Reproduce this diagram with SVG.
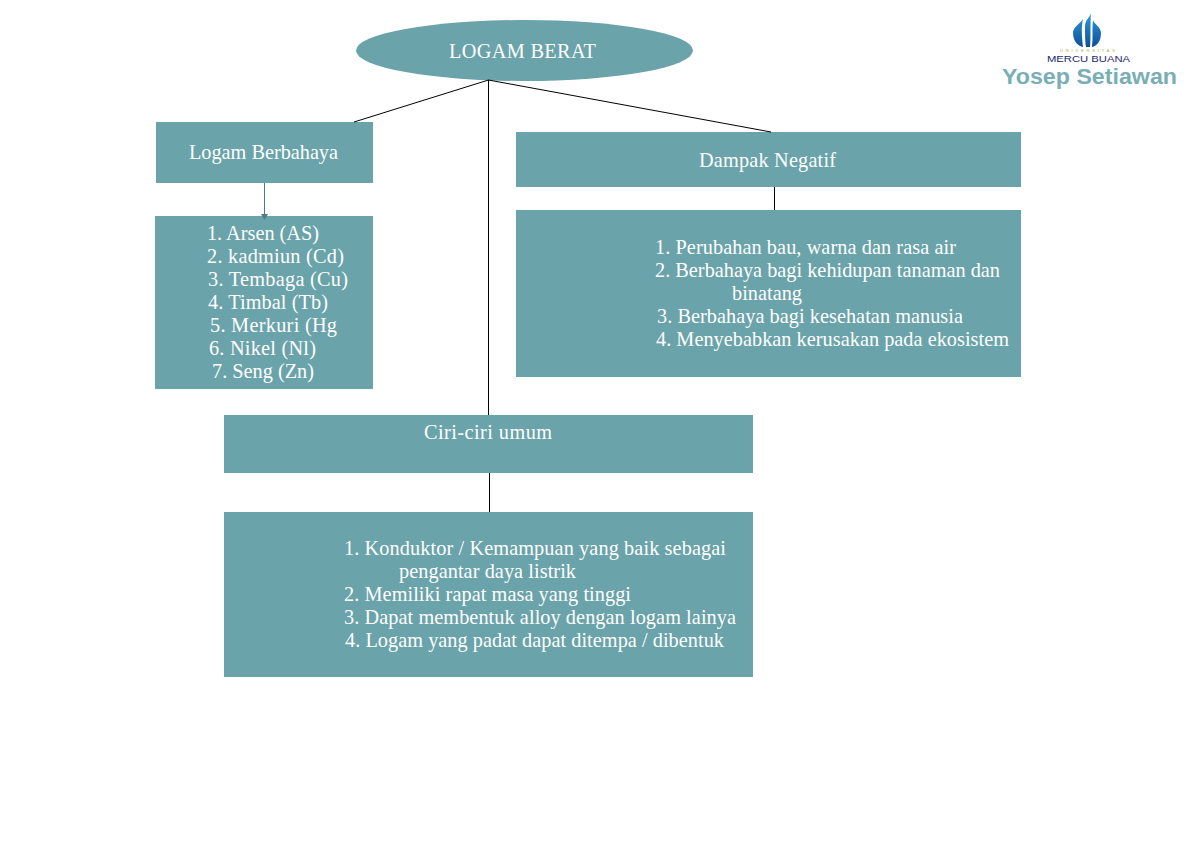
<svg xmlns="http://www.w3.org/2000/svg" width="1189" height="841" viewBox="0 0 1189 841">
<style>
.n{fill:#6aa3aa}
.t{font-family:"Liberation Serif","Times New Roman",serif;font-size:20.300px;fill:#fff}
.c{stroke:#000;stroke-width:1;fill:none}
.logo{font-family:"Liberation Sans",Arial,sans-serif}
</style>
<defs><linearGradient id="b" gradientUnits="userSpaceOnUse" x1="0" y1="13" x2="0" y2="47"><stop offset="0" stop-color="#2f9ad8"/><stop offset="1" stop-color="#0f4f9a"/></linearGradient></defs>
<rect width="1189" height="841" fill="#fff"/>
<g id="logam-berat"><ellipse class="n" cx="524.500" cy="50.500" rx="168.500" ry="30.500"/><text class="t" x="449" y="58" textLength="147">LOGAM BERAT</text></g>
<g id="logam-berbahaya"><rect class="n" x="156" y="122" width="217" height="61"/><text class="t" x="189" y="159" textLength="149">Logam Berbahaya</text></g>
<g id="daftar-logam"><rect class="n" x="155" y="216" width="218" height="173"/>
<text class="t" x="207" y="240" textLength="112">1. Arsen (AS)</text>
<text class="t" x="207" y="263" textLength="137">2. kadmiun (Cd)</text>
<text class="t" x="208" y="286" textLength="140">3. Tembaga (Cu)</text>
<text class="t" x="208" y="309" textLength="120">4. Timbal (Tb)</text>
<text class="t" x="210" y="332" textLength="127">5. Merkuri (Hg</text>
<text class="t" x="209" y="355" textLength="107">6. Nikel (Nl)</text>
<text class="t" x="212" y="378" textLength="102">7. Seng (Zn)</text></g>
<g id="dampak-negatif"><rect class="n" x="516" y="132" width="505" height="55"/><text class="t" x="699" y="167" textLength="137">Dampak Negatif</text></g>
<g id="daftar-dampak"><rect class="n" x="516" y="210" width="505" height="167"/>
<text class="t" x="655" y="254" textLength="301">1. Perubahan bau, warna dan rasa air</text>
<text class="t" x="655" y="277" textLength="345">2. Berbahaya bagi kehidupan tanaman dan</text>
<text class="t" x="732" y="300" textLength="70">binatang</text>
<text class="t" x="657" y="323" textLength="306">3. Berbahaya bagi kesehatan manusia</text>
<text class="t" x="656" y="346" textLength="353">4. Menyebabkan kerusakan pada ekosistem</text></g>
<g id="ciri-ciri"><rect class="n" x="224" y="415" width="529" height="58"/><text class="t" x="424" y="439" textLength="128">Ciri-ciri umum</text></g>
<g id="daftar-ciri"><rect class="n" x="224" y="512" width="529" height="165"/>
<text class="t" x="344" y="555" textLength="382">1. Konduktor / Kemampuan yang baik sebagai</text>
<text class="t" x="399" y="578" textLength="177">pengantar daya listrik</text>
<text class="t" x="344" y="601" textLength="287">2. Memiliki rapat masa yang tinggi</text>
<text class="t" x="344" y="624" textLength="392">3. Dapat membentuk alloy dengan logam lainya</text>
<text class="t" x="345" y="647" textLength="379">4. Logam yang padat dapat ditempa / dibentuk</text></g>
<g id="connectors">
<path class="c" d="M488.500 80L354 122M488.500 80L771 132M488.500 80V415M774.500 187V210M489.500 473V512"/>
<path d="M264.500 183V215" stroke="#4f7c82" fill="none"/>
<path d="M261 214H268L264.500 220Z" fill="#4f7c82"/>
</g>
<g id="logo">
<path d="M1083 19C1081 23 1073 27 1073 33C1073 41 1078 46 1083 47C1082 38 1081 27 1083 19Z" fill="url(#b)"/>
<path d="M1091 13C1090 18 1085 19 1085 27C1085 35 1085 42 1086 47H1090C1091 38 1090 24 1091 13Z" fill="url(#b)"/>
<path d="M1093 20C1094 24 1101 27 1101 33C1101 41 1097 46 1092 47C1093 38 1092 28 1093 20Z" fill="url(#b)"/>
<text class="logo" x="1060" y="52" textLength="55" font-size="4" fill="#a9b04a">UNIVERSITAS</text>
<text class="logo" x="1047" y="62" textLength="83" lengthAdjust="spacingAndGlyphs" font-size="9.500" fill="#1b2a6b">MERCU BUANA</text>
<text class="logo" x="1002" y="84" textLength="175" lengthAdjust="spacingAndGlyphs" font-size="22" font-weight="bold" fill="#7aaeb5">Yosep Setiawan</text>
</g>
</svg>
